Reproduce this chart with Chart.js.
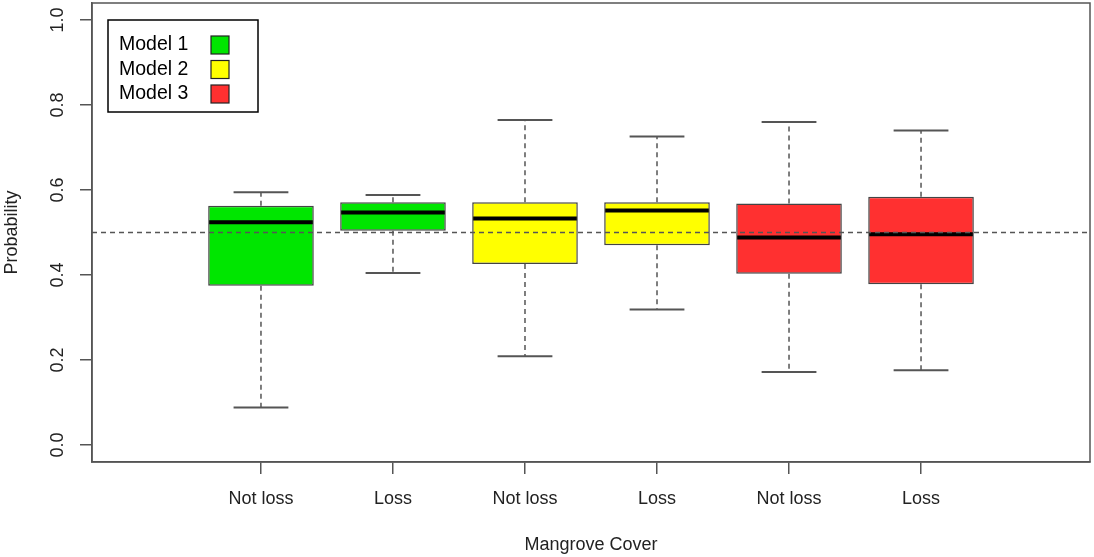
<!DOCTYPE html>
<html>
<head>
<meta charset="utf-8">
<script src="https://cdn.jsdelivr.net/npm/chart.js@4/dist/chart.umd.min.js"></script>
<style>
  html, body { margin: 0; padding: 0; background: #fff; }
  #wrap { width: 1094px; height: 557px; }
</style>
</head>
<body>
<div id="wrap"><canvas id="boxChart"></canvas></div>
<script>
// data
const categories = ['Not loss', 'Loss', 'Not loss', 'Loss', 'Not loss', 'Loss'];
const models = ['Model 1', 'Model 2', 'Model 3'];
const modelColors = ['#00e600', '#ffff00', '#ff3030'];
const whiskerLow = [0.088, 0.405, 0.209, 0.319, 0.172, 0.176];
const q1 = [0.375, 0.504, 0.426, 0.470, 0.403, 0.378];
const median = [0.524, 0.547, 0.533, 0.552, 0.488, 0.496];
const q3 = [0.563, 0.571, 0.571, 0.571, 0.568, 0.584];
const whiskerHigh = [0.595, 0.588, 0.765, 0.726, 0.760, 0.740];
const yTicks = [0, 0.2, 0.4, 0.6, 0.8, 1.0];
const refLine = 0.5;

const positions = categories.map((c, i) => i + 1);
const boxColors = categories.map((c, i) => modelColors[Math.floor(i / 2)]);
const axisGrey = '#555555';
const font18 = { family: 'Liberation Sans, Arial, sans-serif', size: 18 };

// whiskers, medians, reference line, frame and legend
const boxExtras = {
    id: 'boxExtras',
    afterDatasetsDraw(chart) {
        const ctx = chart.ctx;
        const x = chart.scales.x, y = chart.scales.y;
        const area = chart.chartArea;
        const halfBox = (x.getPixelForValue(1.4) - x.getPixelForValue(1));
        const halfCap = halfBox / 2;
        ctx.save();
        positions.forEach((p, i) => {
            const px = x.getPixelForValue(p);
            // dashed whiskers
            ctx.strokeStyle = axisGrey;
            ctx.lineWidth = 1.5;
            ctx.setLineDash([5, 4]);
            ctx.beginPath();
            ctx.moveTo(px, y.getPixelForValue(q3[i]));
            ctx.lineTo(px, y.getPixelForValue(whiskerHigh[i]));
            ctx.moveTo(px, y.getPixelForValue(q1[i]));
            ctx.lineTo(px, y.getPixelForValue(whiskerLow[i]));
            ctx.stroke();
            // caps
            ctx.setLineDash([]);
            ctx.lineWidth = 2;
            ctx.beginPath();
            [whiskerHigh[i], whiskerLow[i]].forEach(v => {
                const py = y.getPixelForValue(v);
                ctx.moveTo(px - halfCap - 1, py);
                ctx.lineTo(px + halfCap + 1, py);
            });
            ctx.stroke();
            // median
            ctx.strokeStyle = '#000';
            ctx.lineWidth = 4;
            ctx.beginPath();
            const my = y.getPixelForValue(median[i]);
            ctx.moveTo(px - halfBox + 1, my);
            ctx.lineTo(px + halfBox - 1, my);
            ctx.stroke();
        });

        // reference line at 0.5
        const ry = y.getPixelForValue(refLine);
        ctx.strokeStyle = axisGrey;
        ctx.lineWidth = 1.5;
        ctx.setLineDash([5, 4]);
        ctx.beginPath();
        ctx.moveTo(area.left, ry);
        ctx.lineTo(area.right, ry);
        ctx.stroke();
        ctx.setLineDash([]);

        // plot frame
        ctx.strokeStyle = axisGrey;
        ctx.lineWidth = 1.5;
        ctx.strokeRect(area.left, area.top, area.right - area.left, area.bottom - area.top);

        // legend (text first, then the colour square)
        const lx = area.left + 16, ly = area.top + 17;
        ctx.fillStyle = '#fff';
        ctx.fillRect(lx, ly, 150, 92);
        ctx.strokeStyle = '#000';
        ctx.lineWidth = 1.5;
        ctx.strokeRect(lx, ly, 150, 92);
        ctx.font = '19.5px Liberation Sans, Arial, sans-serif';
        ctx.textBaseline = 'middle';
        ctx.textAlign = 'left';
        models.forEach((m, k) => {
            const cy = ly + 25 + k * 24.5;
            ctx.fillStyle = '#000';
            ctx.fillText(m, lx + 11, cy);
            ctx.fillStyle = modelColors[k];
            ctx.fillRect(lx + 103, cy - 9, 18, 18);
            ctx.strokeStyle = '#222';
            ctx.lineWidth = 1.2;
            ctx.strokeRect(lx + 103, cy - 9, 18, 18);
        });
        ctx.restore();
    }
};

const ctx = document.getElementById('boxChart').getContext('2d');
const boxChart = new Chart(ctx, {
    type: 'bar',
    data: {
        datasets: [{
            data: positions.map((p, i) => ({ x: p, y: [q1[i], q3[i]] })),
            backgroundColor: boxColors,
            borderColor: '#444',
            borderWidth: 1.5,
            borderSkipped: false,
            barPercentage: 0.8,
            categoryPercentage: 1.0
        }]
    },
    options: {
        responsive: true,
        maintainAspectRatio: false,
        animation: false,
        layout: { padding: { top: 3, right: 4, left: 0, bottom: 0 } },
        plugins: {
            legend: { display: false },
            tooltip: { enabled: false }
        },
        scales: {
            x: {
                type: 'linear',
                min: -0.28,
                max: 7.28,
                offset: false,
                afterFit: s => { s.height = 95; s.paddingLeft = 0; s.paddingRight = 0; },
                afterBuildTicks: s => { s.ticks = positions.map(v => ({ value: v })); },
                grid: { offset: false, drawOnChartArea: false, drawTicks: true, tickLength: 12, color: axisGrey, lineWidth: 1.5 },
                border: { display: true, color: axisGrey, width: 1.5 },
                ticks: {
                    color: '#222',
                    font: font18,
                    padding: 14,
                    maxRotation: 0,
                    autoSkip: false,
                    callback: v => categories[v - 1]
                },
                title: { display: true, text: 'Mangrove Cover', color: '#222', font: font18, padding: { top: 0, bottom: 1 } }
            },
            y: {
                min: -0.04,
                max: 1.04,
                afterFit: s => { s.width = 92; s.paddingTop = 0; s.paddingBottom = 0; },
                afterBuildTicks: s => { s.ticks = yTicks.map(v => ({ value: v })); },
                grid: { drawOnChartArea: false, drawTicks: true, tickLength: 12, color: axisGrey, lineWidth: 1.5 },
                border: { display: true, color: axisGrey, width: 1.5 },
                ticks: {
                    color: '#222',
                    font: font18,
                    padding: 9,
                    minRotation: 90,
                    maxRotation: 90,
                    crossAlign: 'center',
                    callback: v => v.toFixed(1)
                },
                title: { display: true, text: 'Probability', color: '#222', font: font18, padding: { top: 1, bottom: 0 } }
            }
        }
    },
    plugins: [boxExtras]
});
</script>
</body>
</html>
